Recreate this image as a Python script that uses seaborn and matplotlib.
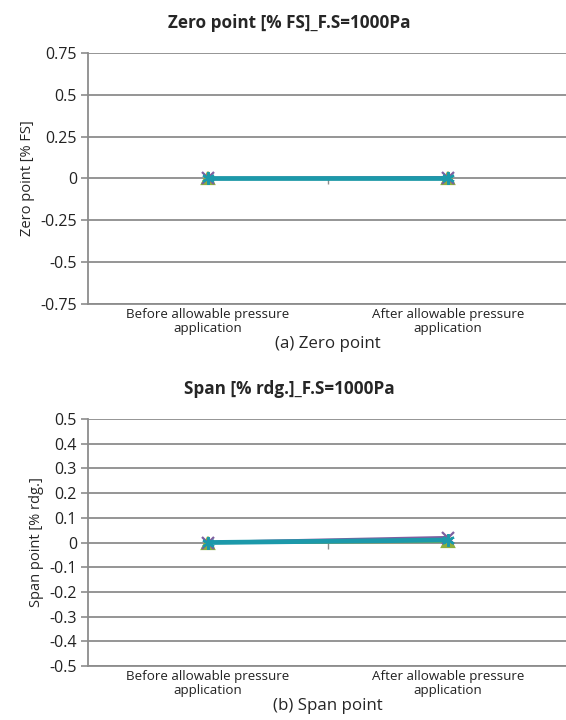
import numpy as np
import pandas as pd
import seaborn as sns
import matplotlib.pyplot as plt

categories = ["Before allowable pressure\napplication", "After allowable pressure\napplication"]
series_names = ["No.1", "No.2", "No.3"]

# zero point [% FS], one list per series (before, after)
zero_no1 = [0.0, 0.0]
zero_no2 = [0.0, 0.005]
zero_no3 = [0.0, 0.0]

# span [% rdg.]
span_no1 = [0.0, 0.005]
span_no2 = [0.0, 0.02]
span_no3 = [0.0, 0.01]

zero_ticks = [-0.75, -0.5, -0.25, 0, 0.25, 0.5, 0.75]
zero_ticklabels = ["-0.75", "-0.5", "-0.25", "0", "0.25", "0.5", "0.75"]
span_ticks = [-0.5, -0.4, -0.3, -0.2, -0.1, 0, 0.1, 0.2, 0.3, 0.4, 0.5]
span_ticklabels = ["-0.5", "-0.4", "-0.3", "-0.2", "-0.1", "0", "0.1", "0.2", "0.3", "0.4", "0.5"]

colors = ["#8DAF3E", "#7D5FA0", "#1C99AA"]
markers = ["^", "x", (6, 2, 0)]

sns.set_theme(style="white")
plt.rcParams["font.family"] = ["Open Sans", "DejaVu Sans"]

grey = "#8c8c8c"


def long_table(values):
    rows = []
    for name, vals in zip(series_names, values):
        for cat, v in zip(categories, vals):
            rows.append({"Series": name, "Stage": cat, "Value": v})
    return pd.DataFrame(rows)


def draw(ax, df, ticks, ticklabels, title, ylabel, xlabel):
    for i, name in enumerate(series_names):
        sub = df[df["Series"] == name]
        sns.lineplot(data=sub, x="Stage", y="Value", ax=ax, color=colors[i],
                     marker=markers[i], markersize=9, markeredgewidth=1.6,
                     markeredgecolor=colors[i], linewidth=3.4 if i == 2 else 2.4)
    ax.set_xlim(-0.5, 1.5)
    ax.set_ylim(ticks[0], ticks[-1])
    ax.set_yticks(ticks)
    ax.set_yticklabels(ticklabels, fontsize=11.5, color="#222222")
    ax.set_xticks([0, 1])
    ax.set_xticklabels(categories, fontsize=9.6, color="#222222", linespacing=1.05)
    ax.tick_params(axis="x", length=0, pad=3)
    ax.tick_params(axis="y", length=5, width=1.2, color=grey, direction="out", pad=3, left=True)
    ax.grid(axis="y", color=grey, linewidth=1.3)
    ax.set_axisbelow(True)
    for s in ["top", "right"]:
        ax.spines[s].set_visible(False)
    ax.spines["left"].set_color(grey)
    ax.spines["left"].set_linewidth(1.3)
    ax.spines["bottom"].set_color(grey)
    ax.spines["bottom"].set_linewidth(1.3)
    mid = ax.secondary_xaxis((0 - ticks[0]) / (ticks[-1] - ticks[0]))
    mid.set_xticks([0.5])
    mid.set_xticklabels([])
    mid.tick_params(length=4, width=1.0, color=grey, direction="in")
    mid.spines["bottom"].set_visible(False)
    mid.spines["top"].set_visible(False)
    ax.set_title(title, fontsize=12.3, fontweight="bold", pad=18, x=0.42)
    ax.set_ylabel(ylabel, fontsize=10.5, labelpad=4)
    ax.set_xlabel(xlabel, fontsize=12.2, labelpad=1)


fig = plt.figure(figsize=(5.66, 7.2), dpi=100)
ax1 = fig.add_axes([0.1555, 0.5778, 0.848, 0.3486])
ax2 = fig.add_axes([0.1555, 0.075, 0.848, 0.343])

draw(ax1, long_table([zero_no1, zero_no2, zero_no3]),
     zero_ticks, zero_ticklabels, "Zero point [% FS]_F.S=1000Pa",
     "Zero point [% FS]", "(a) Zero point")
draw(ax2, long_table([span_no1, span_no2, span_no3]),
     span_ticks, span_ticklabels, "Span [% rdg.]_F.S=1000Pa",
     "Span point [% rdg.]", "(b) Span point")

fig.savefig("out.png", dpi=100)
